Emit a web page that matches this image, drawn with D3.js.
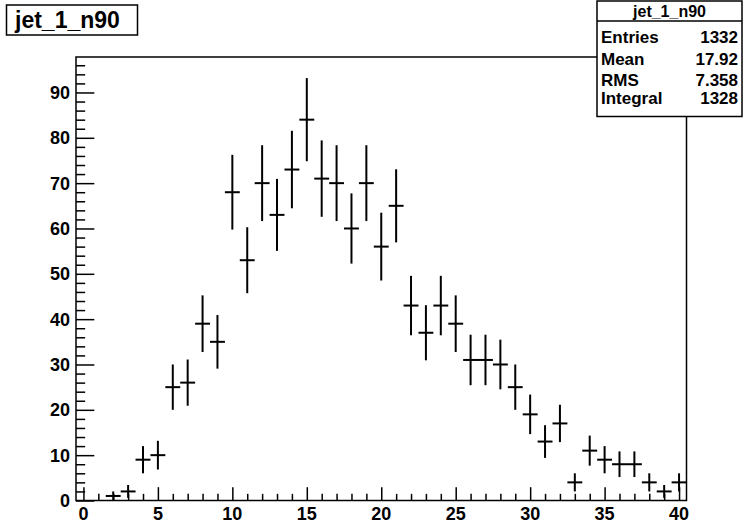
<!DOCTYPE html>
<html>
<head>
<meta charset="utf-8">
<script src="https://cdn.jsdelivr.net/npm/d3@7"></script>
<style>
  body { margin: 0; background: #fff; }
  text { font-family: "Liberation Sans", Arial, sans-serif; font-weight: bold; fill: #000; }
</style>
</head>
<body>
<div id="app"></div>
<script>
  'use strict'

  const title = 'jet_1_n90'
  // bin centres 0..40, counts per bin
  const bins = d3.range(0, 41)
  const counts = [0, 0, 1, 2, 9, 10, 25, 26, 39, 35,
    68, 53, 70, 63, 73, 84, 71, 70, 60, 70,
    56, 65, 43, 37, 43, 39, 31, 31, 30, 25,
    19, 13, 17, 4, 11, 9, 8, 8, 4, 2, 4]
  const statLabels = ['Entries', 'Mean', 'RMS', 'Integral']
  const statValues = ['1332', '17.92', '7.358', '1328']
  const xTicks = [0, 5, 10, 15, 20, 25, 30, 35, 40]
  const yTicks = [0, 10, 20, 30, 40, 50, 60, 70, 80, 90]

  const w = 744
  const h = 524
  const frame = { left: 76, right: 686.5, top: 57, bottom: 500.5 }

  const svg = d3.select('#app')
    .append('svg')
    .attr('width', w)
    .attr('height', h)

  const x = d3.scaleLinear()
    .domain([-0.5, 40.5])
    .range([frame.left, frame.right])

  const ymax = 1.05 * d3.max(counts, c => c + Math.sqrt(c))
  const y = d3.scaleLinear()
    .domain([0, ymax])
    .range([frame.bottom, frame.top])

  // frame
  svg.append('rect')
    .attr('x', frame.left)
    .attr('y', frame.top)
    .attr('width', frame.right - frame.left)
    .attr('height', frame.bottom - frame.top)
    .attr('fill', 'none')
    .attr('stroke', '#000')
    .attr('stroke-width', 1.5)

  // x axis
  const xLen = 0.03 * (frame.bottom - frame.top)
  const xAxis = d3.axisTop(x)
    .tickValues(d3.range(0, 41))
    .tickSize(0)
    .tickFormat('')
  const gx = svg.append('g')
    .attr('transform', 'translate(0,' + frame.bottom + ')')
    .call(xAxis)
  gx.select('.domain').remove()
  gx.selectAll('.tick line')
    .attr('y2', d => d % 5 === 0 ? -xLen : -xLen / 2)
    .attr('stroke', '#000')
    .attr('stroke-width', 1.5)

  svg.append('g')
    .selectAll('text')
    .data(xTicks)
    .enter()
    .append('text')
    .attr('x', d => x(d))
    .attr('y', frame.bottom + 19.5)
    .attr('text-anchor', 'middle')
    .style('font-size', '18px')
    .text(d => d)

  // y axis
  const yLen = 0.03 * (frame.right - frame.left)
  const yAxis = d3.axisRight(y)
    .tickValues(d3.range(0, ymax, 2))
    .tickSize(0)
    .tickFormat('')
  const gy = svg.append('g')
    .attr('transform', 'translate(' + frame.left + ',0)')
    .call(yAxis)
  gy.select('.domain').remove()
  gy.selectAll('.tick line')
    .attr('x2', d => d % 10 === 0 ? yLen : yLen / 2)
    .attr('stroke', '#000')
    .attr('stroke-width', 1.5)

  svg.append('g')
    .selectAll('text')
    .data(yTicks)
    .enter()
    .append('text')
    .attr('x', frame.left - 6)
    .attr('y', d => y(d) + 6.5)
    .attr('text-anchor', 'end')
    .style('font-size', '18px')
    .text(d => d)

  // error bars
  const bw = x(1) - x(0)
  const pts = svg.append('g')
    .selectAll('g')
    .data(bins.filter(b => counts[b] > 0))
    .enter()
    .append('g')
    .attr('stroke', '#000')
    .attr('stroke-width', 2)
  pts.append('line')
    .attr('x1', b => x(b) - bw / 2)
    .attr('x2', b => x(b) + bw / 2)
    .attr('y1', b => y(counts[b]))
    .attr('y2', b => y(counts[b]))
  pts.append('line')
    .attr('x1', b => x(b))
    .attr('x2', b => x(b))
    .attr('y1', b => y(counts[b] - Math.sqrt(counts[b])))
    .attr('y2', b => y(Math.min(counts[b] + Math.sqrt(counts[b]), ymax)))

  // title box
  svg.append('rect')
    .attr('x', 6.5)
    .attr('y', 5)
    .attr('width', 131)
    .attr('height', 30)
    .attr('fill', '#fff')
    .attr('stroke', '#000')
    .attr('stroke-width', 1.5)
  svg.append('text')
    .attr('x', 15)
    .attr('y', 28)
    .style('font-size', '23px')
    .text(title)

  // stats box
  const sb = { left: 597, right: 742, top: 1, bottom: 116.5, head: 21 }
  svg.append('rect')
    .attr('x', sb.left)
    .attr('y', sb.top)
    .attr('width', sb.right - sb.left)
    .attr('height', sb.bottom - sb.top)
    .attr('fill', '#fff')
    .attr('stroke', '#000')
    .attr('stroke-width', 1.5)
  svg.append('line')
    .attr('x1', sb.left)
    .attr('x2', sb.right)
    .attr('y1', sb.head)
    .attr('y2', sb.head)
    .attr('stroke', '#000')
    .attr('stroke-width', 1.5)
  svg.append('text')
    .attr('x', (sb.left + sb.right) / 2)
    .attr('y', 17)
    .attr('text-anchor', 'middle')
    .style('font-size', '16px')
    .text(title)

  const rowY = [43, 65, 86, 104]
  svg.append('g')
    .selectAll('text')
    .data(statLabels)
    .enter()
    .append('text')
    .attr('x', sb.left + 4)
    .attr('y', (d, i) => rowY[i])
    .style('font-size', '17px')
    .text(d => d)
  svg.append('g')
    .selectAll('text')
    .data(statValues)
    .enter()
    .append('text')
    .attr('x', sb.right - 4)
    .attr('y', (d, i) => rowY[i])
    .attr('text-anchor', 'end')
    .style('font-size', '17px')
    .text(d => d)
</script>
</body>
</html>
